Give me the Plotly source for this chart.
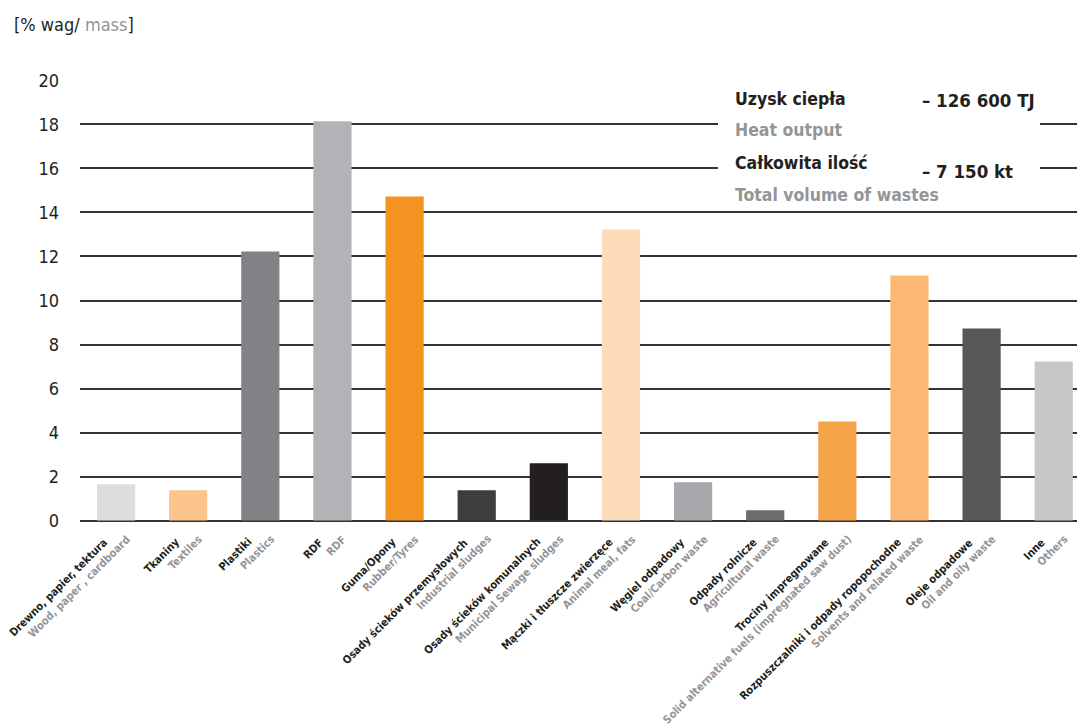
import plotly.graph_objects as go

categories_pl = [
    "Drewno, papier, tektura", "Tkaniny", "Plastiki", "RDF", "Guma/Opony",
    "Osady ścieków przemysłowych", "Osady ścieków komunalnych",
    "Mączki i tłuszcze zwierzęce", "Węgiel odpadowy", "Odpady rolnicze",
    "Trociny impregnowane", "Rozpuszczalniki i odpady ropopochodne",
    "Oleje odpadowe", "Inne",
]
categories_en = [
    "Wood, paper , cardboard", "Textiles", "Plastics", "RDF", "Rubber/Tyres",
    "Industrial sludges", "Municipal Sewage sludges", "Animal meal, fats",
    "Coal/Carbon waste", "Agricultural waste",
    "Solid alternative fuels (impregnated saw dust)", "Solvents and related waste",
    "Oil and oily waste", "Others",
]
values = [1.65, 1.38, 12.23, 18.14, 14.73, 1.38, 2.6, 13.23, 1.74, 0.47, 4.5, 11.14, 8.73, 7.23]
bar_colors = [
    "#dcddde", "#fbc58b", "#818285", "#b2b3b6", "#f39321", "#3d3d3d", "#231f20",
    "#fddcbc", "#a7a8ab", "#6b6c6f", "#f6a44a", "#fbb975", "#565759", "#c6c7c9",
]
y_ticks = [0, 2, 4, 6, 8, 10, 12, 14, 16, 18, 20]

info_pl = ["Uzysk ciepła", "Całkowita ilość"]
info_en = ["Heat output", "Total volume of wastes"]
info_val = ["– 126 600 TJ", "– 7 150 kt"]

FONT = "DejaVu Sans Condensed, DejaVu Sans, sans-serif"
BLACK = "#231f20"
GREY = "#939598"

fig = go.Figure()
fig.add_trace(go.Bar(
    x=list(range(len(values))), y=values,
    marker=dict(color=bar_colors, line=dict(width=0)),
    hoverinfo="skip",
))

# page has an 8px body margin: figure origin sits at (8, 8) of the screenshot
OFF = 8
W, H = 1085 - OFF, 728 - OFF
L, R, T, B = 72, 1, 72, 207
pw = W - L - R
ph = H - T - B

def px_x(p):
    return (p - OFF - L) / pw

def px_y(p):
    return (H - B - (p - OFF)) / ph

fig.update_layout(
    width=W, height=H,
    margin=dict(l=L, r=R, t=T, b=B),
    plot_bgcolor="white", paper_bgcolor="white",
    showlegend=False, bargap=0.47,
    font=dict(family=FONT, color=BLACK),
    xaxis=dict(range=[-0.5, 13.42], showticklabels=False, showgrid=False,
               zeroline=False, ticks="", showline=False, fixedrange=True),
    yaxis=dict(range=[-0.02, 20.02], tickvals=y_ticks, ticks="",
               showgrid=True, gridcolor="#333333", gridwidth=1.6,
               zeroline=True, zerolinecolor="#333333", zerolinewidth=1.6,
               showline=False, tickfont=dict(size=18, color=BLACK, family=FONT),
               ticklabelstandoff=20),
)

ann = []
# axis title
ann.append(dict(
    text="[% wag/ <span style='color:" + GREY + "'>mass</span>]",
    xref="paper", yref="paper", x=px_x(12), y=px_y(25),
    xanchor="left", yanchor="middle", showarrow=False,
    font=dict(size=18, color=BLACK, family=FONT),
))
# category labels
for i, (pl, en) in enumerate(zip(categories_pl, categories_en)):
    ann.append(dict(text="<b>" + pl + "</b>", x=i, y=0, xref="x", yref="paper",
                    xanchor="right", yanchor="top", textangle=-45, showarrow=False,
                    xshift=-3, yshift=-12, font=dict(size=11, color=BLACK, family=FONT)))
    ann.append(dict(text="<b>" + en + "</b>", x=i, y=0, xref="x", yref="paper",
                    xanchor="right", yanchor="top", textangle=-45, showarrow=False,
                    xshift=20, yshift=-9, font=dict(size=11, color=GREY, family=FONT)))

info_rows = [(99, 130, 100), (163, 195, 171)]
for k in range(2):
    ypl, yen, yv = info_rows[k]
    ann.append(dict(text="<b>" + info_pl[k] + "</b>", xref="paper", yref="paper",
                    x=px_x(733), y=px_y(ypl), xanchor="left", yanchor="middle",
                    showarrow=False, font=dict(size=17.5, color=BLACK, family=FONT)))
    ann.append(dict(text="<b>" + info_en[k] + "</b>", xref="paper", yref="paper",
                    x=px_x(733), y=px_y(yen), xanchor="left", yanchor="middle",
                    showarrow=False, font=dict(size=17.5, color=GREY, family=FONT)))
    ann.append(dict(text="<b>" + info_val[k] + "</b>", xref="paper", yref="paper",
                    x=px_x(920), y=px_y(yv), xanchor="left", yanchor="middle",
                    showarrow=False, font=dict(size=18.5, color=BLACK, family=FONT)))

fig.update_layout(annotations=ann)
fig.add_shape(type="rect", xref="paper", yref="paper",
              x0=px_x(718), x1=px_x(1040), y0=px_y(206), y1=px_y(88),
              fillcolor="white", line=dict(width=0), layer="above")

fig.write_html("out.html")
